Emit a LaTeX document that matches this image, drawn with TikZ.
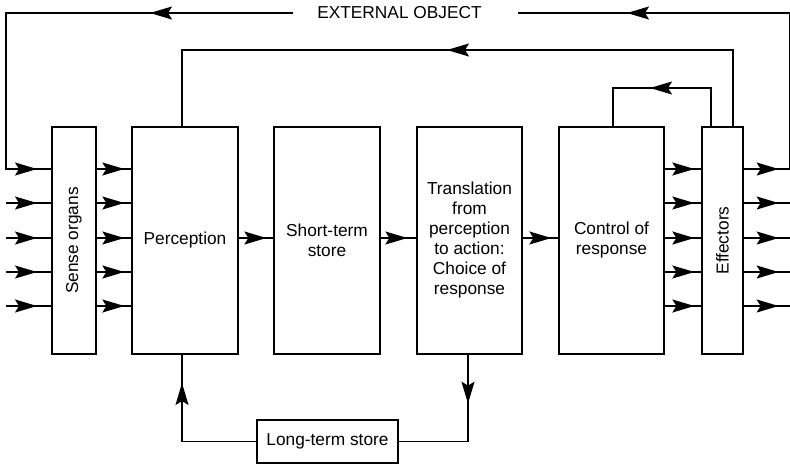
\documentclass[tikz,border=0pt]{standalone}
\usepackage{fontspec}
\setmainfont{Liberation Sans}
\usetikzlibrary{arrows.meta}
\begin{document}
\begin{tikzpicture}[x=1pt,y=-1pt, line width=1.3pt,
  every node/.style={font=\fontsize{17.3}{20}\selectfont},
  box/.style={draw, rectangle, inner sep=0pt, align=center, line width=1.3pt},
  arr/.style={-{Stealth[length=22pt,width=13pt,inset=4pt]}},
]
\useasboundingbox (0,0) rectangle (790,464);
% boxes
\node[box, minimum width=227pt, minimum height=44pt, rotate=90] (sense) at (74,240.5) {Sense organs};
\node[box, minimum width=106pt, minimum height=227pt] (perc) at (185,240.5) {Perception};
\node[box, minimum width=106pt, minimum height=227pt] (sts) at (327,240.5) {Short-term\\store};
\node[box, minimum width=105pt, minimum height=227pt] (trans) at (469.5,240.5) {Translation\\from\\perception\\to action:\\Choice of\\response};
\node[box, minimum width=105pt, minimum height=227pt] (ctrl) at (611.5,240.5) {Control of\\response};
\node[box, minimum width=227pt, minimum height=41pt, rotate=90] (eff) at (722.5,240.5) {Effectors};
\node[box, minimum width=141pt, minimum height=43pt] (lts) at (327.5,441.5) {Long-term store};
\node (ext) at (399.5,13) {EXTERNAL OBJECT};
% coordinates
\coordinate (r1) at (0,169);
\coordinate (r2) at (0,203);
\coordinate (r3) at (0,238);
\coordinate (r4) at (0,272);
\coordinate (r5) at (0,306);
\coordinate (eL) at (293,13);
\coordinate (eR) at (518,13);
\coordinate (bB) at (733,50);
\coordinate (bA) at (182,50);
\coordinate (cB) at (711,88);
\coordinate (cA) at (613,88);
\coordinate (pA) at (182,0);
\coordinate (pB) at (468,0);
% parallel rows
\foreach \r in {r1,r2,r3,r4,r5}{
  \draw (sense.south |- \r) -- (perc.west |- \r);
  \draw[arr] (sense.south |- \r) -- ([xshift=-7pt]perc.west |- \r);
  \draw (ctrl.east |- \r) -- (eff.north |- \r);
  \draw[arr] (ctrl.east |- \r) -- ([xshift=-7pt]eff.north |- \r);
}
\foreach \r in {r2,r3,r4,r5}{
  \coordinate (in-\r) at ([xshift=6pt]\r);
  \draw (in-\r) -- (sense.north |- \r);
  \draw[arr] (in-\r) -- ++(31,0);
  \draw (eff.south |- \r) -- ++(46,0);
  \draw[arr] (eff.south |- \r) -- ++(35,0);
}
% main chain
\draw (perc.east |- r3) -- (sts.west |- r3);
\draw[arr] (perc.east |- r3) -- ([xshift=-7pt]sts.west |- r3);
\draw (sts.east |- r3) -- (trans.west |- r3);
\draw[arr] (sts.east |- r3) -- ([xshift=-9pt]trans.west |- r3);
\draw (trans.east |- r3) -- (ctrl.west |- r3);
\draw[arr] (trans.east |- r3) -- ([xshift=-7pt]ctrl.west |- r3);
% external loop
\draw (eff.south |- r1) -- ++(46,0) |- (eR);
\draw[arr] (eff.south |- r1) -- ++(35,0);
\draw[arr] ([xshift=140pt]eR) -- ([xshift=109pt]eR);
\draw (eL) -| ([xshift=6pt]r1) -- (sense.north |- r1);
\draw[arr] ([xshift=-100pt]eL) -- ([xshift=-143pt]eL);
\draw[arr] ([xshift=6pt]r1) -- ++(31,0);
% feedback loops
\draw (eff.east -| bB) -- (bB) -- (bA) -- (perc.north -| bA);
\draw[arr] ([xshift=-250pt]bB) -- ([xshift=-286pt]bB);
\draw (eff.east -| cB) -- (cB) -- (cA) -- (ctrl.north -| cA);
\draw[arr] ([xshift=-30pt]cB) -- ([xshift=-61pt]cB);
% long-term store
\draw (lts.west) -- (lts.west -| pA) -- (perc.south -| pA);
\draw[arr] (lts.west -| pA) -- ([yshift=58.5pt]lts.west -| pA);
\draw (trans.south -| pB) -- (lts.east -| pB) -- (lts.east);
\draw[arr] (trans.south -| pB) -- ([yshift=-49pt]trans.south -| pB);
\end{tikzpicture}
\end{document}
